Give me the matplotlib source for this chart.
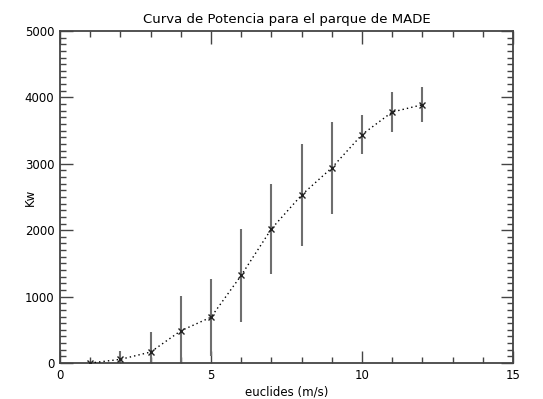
import numpy as np
import matplotlib
matplotlib.use("Agg")
import matplotlib.pyplot as plt
from matplotlib.ticker import MultipleLocator

# -----------------------------
# Data
# -----------------------------
wind_speed = [1, 2, 3, 4, 5, 6, 7, 8, 9, 10, 11, 12]
power_kw = [0, 55, 165, 485, 690, 1320, 2020, 2530, 2940, 3440, 3780, 3890]
power_err = [0, 130, 300, 520, 580, 700, 680, 770, 690, 290, 300, 260]

title = "Curva de Potencia para el parque de MADE"
x_label = "euclides (m/s)"
y_label = "Kw"

plt.rcParams["font.family"] = ["DejaVu Sans"]

fig = plt.figure(figsize=(5.43, 3.99), dpi=100)
ax = fig.add_axes([0.1105, 0.0902, 0.8343, 0.8321])

# error bars (grey, no caps)
ax.errorbar(wind_speed, power_kw, yerr=power_err, fmt="none",
            ecolor="#6e6e6e", elinewidth=1.5, capsize=0, zorder=2)
# dotted curve + x markers
ax.plot(wind_speed, power_kw, linestyle=(0, (1, 2.2)), color="black",
        linewidth=1.0, zorder=3)
ax.plot(wind_speed, power_kw, linestyle="none", marker="x", color="#222222",
        markersize=5, markeredgewidth=1.0, zorder=4)

ax.set_xlim(0, 15)
ax.set_ylim(0, 5000)
ax.xaxis.set_major_locator(MultipleLocator(5))
ax.xaxis.set_minor_locator(MultipleLocator(1))
ax.yaxis.set_major_locator(MultipleLocator(1000))
ax.yaxis.set_minor_locator(MultipleLocator(100))

ax.tick_params(which="both", direction="in", top=True, right=True,
               color="#444444", width=1.0, labelsize=8.5, pad=4)
ax.tick_params(which="major", length=9)
ax.tick_params(which="minor", length=4.5)

for sp in ax.spines.values():
    sp.set_color("#444444")
    sp.set_linewidth(1.3)

ax.set_title(title, fontsize=9.5, pad=6)
ax.set_xlabel(x_label, fontsize=8.5, labelpad=3)
ax.set_ylabel(y_label, fontsize=8.5)
ax.yaxis.set_label_coords(-0.05, 0.5)

fig.savefig("out.png", dpi=100)
